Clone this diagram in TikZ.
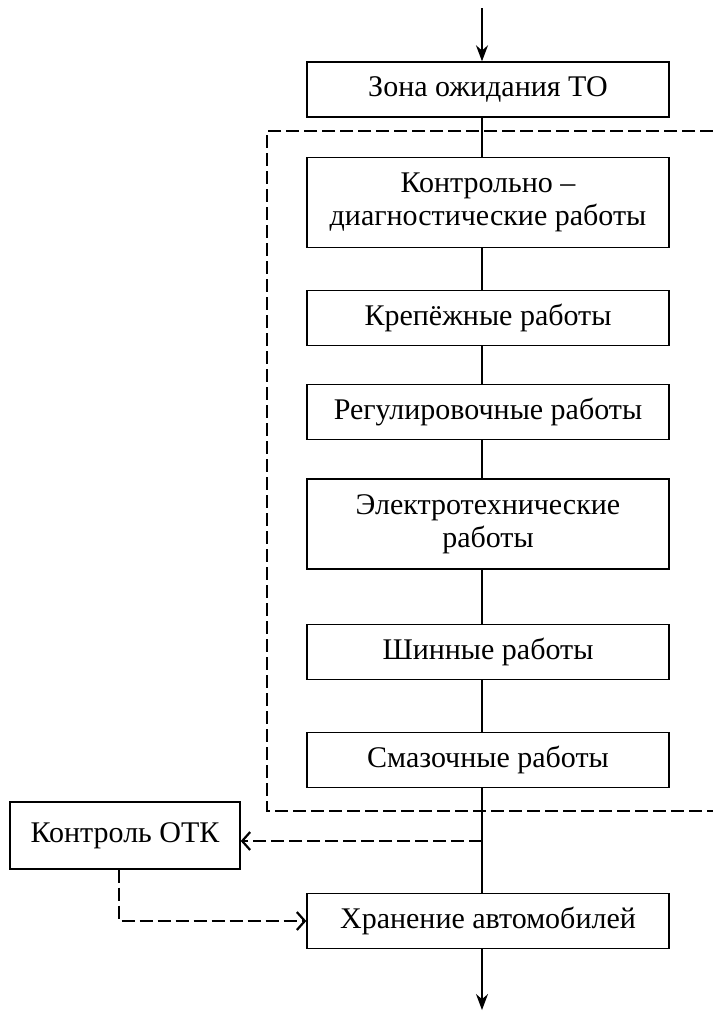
\documentclass[tikz,border=0pt]{standalone}
\usepackage{fontspec}
\setmainfont{Liberation Serif}
\usetikzlibrary{arrows.meta}
\begin{document}
\begin{tikzpicture}[x=.5pt,y=-.5pt,line width=.7pt,
    box/.style={draw,minimum width=181pt,minimum height=27.5pt,inner sep=2pt,align=center,
      font=\fontsize{15}{16.5}\selectfont},
    tallbox/.style={box,minimum height=45pt},
    dashline/.style={dash pattern=on 6.5pt off 2.5pt},
    flow/.style={-{Stealth[length=8pt,width=6pt]}},
    dflow/.style={dashline,-{Straight Barb[length=4pt,width=9pt,line width=1.1pt]}}]
  \useasboundingbox (0,0) rectangle (713,1014);
  % main column
  \coordinate (in) at (482,8); \coordinate (out) at (482,1010);
  \node[box] (zona) at (488,89.5) {Зона ожидания ТО};
  \node[tallbox] (kd) at (488,202.5) {Контрольно --\\диагностические работы};
  \node[box] (krep) at (488,318) {Крепёжные работы};
  \node[box] (reg) at (488,412) {Регулировочные работы};
  \node[tallbox] (el) at (488,524) {Электротехнические\\работы};
  \node[box] (shin) at (488,652) {Шинные работы};
  \node[box] (smaz) at (488,760) {Смазочные работы};
  \node[box] (hran) at (488,921) {Хранение автомобилей};
  \node[box,minimum width=115pt,minimum height=33.5pt] (otk) at (125,835.5) {Контроль ОТК};
  % TO zone frame
  \draw[dashline] (713,131) -| (267,811) -- (713,811);
  \draw[flow] (in) -- (in |- zona.north);
  \foreach \a/\b in {zona/kd,kd/krep,krep/reg,reg/el,el/shin,shin/smaz,smaz/hran}
    \draw (\a.south -| in) -- (\b.north -| in);
  \draw[flow] (hran.south -| out) -- (out);
  % OTK loop
  \coordinate (br) at (482,841); \coordinate (bend) at (119,921);
  \draw[dflow] (br) -- (br -| otk.east);
  \draw[dflow] (bend |- otk.south) -- (bend) -- (hran.west);
\end{tikzpicture}
\end{document}
